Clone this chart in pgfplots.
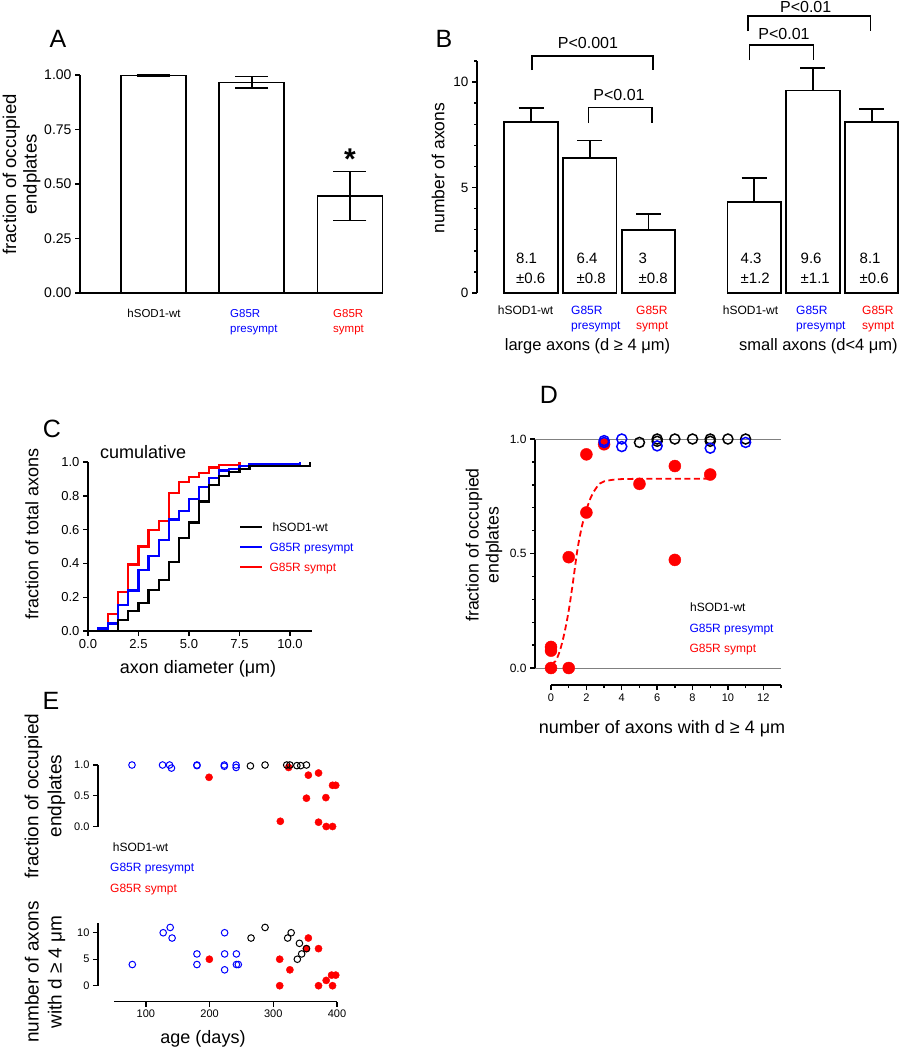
\documentclass[border=0pt]{standalone}
\usepackage{fontspec}
\setmainfont{Liberation Sans}
\usepackage{pgfplots}
\pgfplotsset{compat=1.18}
\definecolor{cb}{RGB}{0,0,255}
\definecolor{cr}{RGB}{255,0,0}
\newcommand\F[2]{\fontsize{#1}{#2}\selectfont}
\pgfplotsset{
  base/.style={scale only axis, anchor=south west, clip=false,
    /pgf/number format/assume math mode=true,
    axis line style={line width=1.6pt},
    tick style={line width=1.4pt, black},
    major tick length=5pt, minor tick length=3pt},
  dec1/.style={/pgf/number format/fixed, /pgf/number format/fixed zerofill, /pgf/number format/precision=1},
  dec2/.style={/pgf/number format/fixed, /pgf/number format/fixed zerofill, /pgf/number format/precision=2},
}
\begin{document}
\begin{tikzpicture}
\path[use as bounding box] (0pt,0pt) rectangle (899pt,-1050pt);

% ---------------- Panel A ----------------
\begin{axis}[base, at={(80pt,-293pt)}, width=303pt, height=218pt,
  xmin=0.252, xmax=3.336, ymin=0, ymax=1,
  axis x line*=bottom, axis y line*=left, tick align=outside,
  axis line style={line width=1.8pt},
  xtick=\empty, ytick={0,0.25,0.5,0.75,1},
  yticklabel style={font=\F{14}{16}, dec2}]
\addplot[ybar, bar width=0.66, bar shift=0pt, fill=white, draw=black, line width=1.8pt,
  error bars/.cd, y dir=both, y explicit,
  error bar style={line width=1.8pt},
  error mark options={rotate=90, line width=1.8pt, mark size=16.5pt}]
  table[row sep=\\, x=x, y=y, y error=e] {x y e\\ 1 0.998 0.001\\ 2 0.966 0.027\\ 3 0.445 0.112\\};
\end{axis}

% ---------------- Panel B ----------------
\begin{axis}[base, at={(477pt,-293pt)}, width=422pt, height=232pt,
  xmin=0.08, xmax=7.265, ymin=0, ymax=11,
  axis y line*=left, axis x line=none, tick align=outside,
  axis line style={line width=1.6pt},
  xtick=\empty, ytick={0,5,10}, minor ytick={1,2,3,4,6,7,8,9,11},
  yticklabel style={font=\F{13.5}{15}}]
\addplot[ybar, bar width=0.908, bar shift=0pt, fill=white, draw=black, line width=1.8pt,
  error bars/.cd, y dir=plus, y explicit,
  error bar style={line width=1.8pt},
  error mark options={rotate=90, line width=1.8pt, mark size=12.5pt}]
  table[row sep=\\, x=x, y=y, y error=e] {x y e\\ 1 8.1 0.67\\ 2 6.4 0.83\\ 3 3 0.76\\ 4.8 4.3 1.16\\ 5.8 9.6 1.06\\ 6.8 8.1 0.62\\};
\end{axis}

% ---------------- Panel C ----------------
\begin{axis}[base, at={(88pt,-631pt)}, width=224pt, height=169pt,
  xmin=0, xmax=11.09, ymin=0, ymax=1,
  axis x line*=bottom, axis y line*=left, tick align=outside,
  axis line style={line width=1.5pt},
  xtick={0,2.5,5,7.5,10}, ytick={0,0.2,0.4,0.6,0.8,1},
  xticklabel style={font=\F{13}{14}, dec1},
  yticklabel style={font=\F{13}{14}, dec1}]
\addplot[const plot, color=cr, line width=2.2pt] coordinates {
 (0,0) (1.0,0.099) (1.5,0.23) (2.0,0.394) (2.5,0.5) (3.0,0.6) (3.5,0.653) (4.0,0.816)
 (4.5,0.88) (5.0,0.91) (5.5,0.935) (6.0,0.968) (6.5,0.984) (7.5,1.0)};
\addplot[const plot, color=cb, line width=2.2pt] coordinates {
 (0,0) (0.5,0.015) (1.0,0.045) (1.5,0.155) (2.0,0.24) (2.5,0.36) (3.0,0.445) (3.5,0.54)
 (4.0,0.66) (4.5,0.71) (5.0,0.78) (5.5,0.85) (6.0,0.905) (6.5,0.95) (7.0,0.96) (7.5,0.975)
 (8.0,0.985) (9.5,0.99) (10.5,1.0)};
\addplot[const plot, color=black, line width=2.2pt] coordinates {
 (0,0) (1.5,0.065) (2.0,0.12) (2.5,0.164) (3.0,0.245) (3.5,0.30) (4.0,0.41) (4.5,0.549)
 (5.0,0.642) (5.5,0.766) (6.0,0.865) (6.5,0.919) (7.0,0.94) (7.5,0.96) (8.0,0.975) (11.0,1.0)};
\end{axis}

% ---------------- Panel D ----------------
\begin{axis}[base, at={(535pt,-668pt)}, width=246pt, height=229pt,
  xmin=-0.905, xmax=13, ymin=0, ymax=1,
  axis y line*=left, axis x line=none, tick align=outside,
  axis line style={line width=1.3pt},
  xtick=\empty, ytick={0,0.5,1}, minor ytick={0.1,0.2,0.3,0.4,0.6,0.7,0.8,0.9},
  yticklabel style={font=\F{12}{13}, dec1}]
\draw[gray, line width=1pt] (axis cs:-0.905,0) -- (axis cs:13,0);
\draw[gray, line width=1pt] (axis cs:-0.905,1) -- (axis cs:13,1);
\addplot[color=cr, line width=1.8pt, dash pattern=on 6pt off 3.5pt, smooth, tension=0.5] coordinates {
 (0,0.015) (0.25,0.03) (0.5,0.075) (0.75,0.15) (1.0,0.25) (1.25,0.38) (1.5,0.52) (1.75,0.62)
 (2.0,0.69) (2.25,0.745) (2.5,0.78) (2.75,0.805) (3.0,0.815) (3.5,0.822) (4,0.825) (5,0.826) (9,0.827)};
\addplot[only marks, mark=*, mark size=6pt, color=cr, mark options={draw=none, fill=cr}] coordinates {
 (0,0) (0,0.076) (0,0.092) (1,0) (1,0.484) (2,0.933) (2,0.679) (3,0.977) (5,0.804) (7,0.882) (7,0.472) (9,0.845)};
\addplot[only marks, mark=o, mark size=5pt, color=black, mark options={line width=1.5pt}] coordinates {
 (5,0.985) (6,1.0) (6,0.99) (7,1.0) (8,1.0) (9,1.0) (9,0.99) (10,1.0) (11,1.0)};
\addplot[only marks, mark=o, mark size=5pt, color=cb, mark options={line width=1.5pt}] coordinates {
 (3,0.993) (3,0.985) (4,1.0) (4,0.967) (6,0.97) (9,0.96) (11,0.985)};
\end{axis}
\begin{axis}[base, at={(551pt,-685pt)}, width=230pt, height=1pt,
  xmin=0, xmax=13, ymin=0, ymax=1,
  axis x line*=bottom, axis y line=none, tick align=outside,
  axis line style={line width=1.3pt},
  ytick=\empty, xtick={0,2,4,6,8,10,12}, minor xtick={1,3,5,7,9,11,13},
  xticklabel style={font=\F{11}{12}}]
\end{axis}

% ---------------- Panel E ----------------
\begin{axis}[base, at={(98pt,-826.5pt)}, width=239pt, height=61.5pt,
  xmin=24.6, xmax=400, ymin=0, ymax=1,
  axis y line*=left, axis x line=none, tick align=outside,
  axis line style={line width=1.2pt},
  xtick=\empty, ytick={0,0.5,1},
  yticklabel style={font=\F{11}{12}, dec1}]
\addplot[only marks, mark=*, mark size=3.6pt, color=cr, mark options={draw=none, fill=cr}] coordinates {
 (199,0.80) (324,0.96) (355,0.835) (371,0.87) (393,0.67) (398,0.67) (352,0.46) (382.5,0.47)
 (311,0.085) (371,0.07) (383,0.0) (393,0.0)};
\addplot[only marks, mark=o, mark size=3.3pt, color=cb, mark options={line width=1pt}] coordinates {
 (78,1.0) (126,1.0) (137,1.0) (140,0.95) (180,1.0) (180,0.99) (223,1.0) (223,0.98) (241.5,1.0) (241.5,0.96)};
\addplot[only marks, mark=o, mark size=3.3pt, color=black, mark options={line width=1pt}] coordinates {
 (264,0.985) (287,1.0) (321,1.0) (326,1.0) (337,0.99) (343,0.99) (352,1.0)};
\end{axis}
\begin{axis}[base, at={(98pt,-985.7pt)}, width=239pt, height=62.5pt,
  xmin=24.6, xmax=400, ymin=0, ymax=11.8,
  axis y line*=left, axis x line=none, tick align=outside,
  axis line style={line width=1.2pt},
  xtick=\empty, ytick={0,5,10},
  yticklabel style={font=\F{11}{12}}]
\addplot[only marks, mark=*, mark size=3.6pt, color=cr, mark options={draw=none, fill=cr}] coordinates {
 (199.5,5) (310,5) (310,0) (326,3) (352,7) (355,9) (371,7) (371,0) (383,1) (393,0) (391.5,2) (398,2)};
\addplot[only marks, mark=o, mark size=3.3pt, color=cb, mark options={line width=1pt}] coordinates {
 (78.5,4) (127,10) (138,11) (141,9) (180,6) (180,4) (223.5,10) (223.5,6) (223.5,3) (242,6) (242,4) (245,4)};
\addplot[only marks, mark=o, mark size=3.3pt, color=black, mark options={line width=1pt}] coordinates {
 (265,9) (287,11) (322.5,9) (328,10) (341,8) (337.7,5) (344.5,6) (352,7)};
\end{axis}
\begin{axis}[base, at={(114pt,-1001.7pt)}, width=223pt, height=1pt,
  xmin=50, xmax=400, ymin=0, ymax=1,
  axis x line*=bottom, axis y line=none, tick align=outside,
  axis line style={line width=1.2pt},
  ytick=\empty, xtick={100,200,300,400},
  xticklabel style={font=\F{11}{12}}]
\end{axis}

% ---------------- Text ----------------
\tikzset{t/.style={inner sep=0pt}}
% panel letters
\node[t, font=\F{25}{25}] at (58pt,-39pt) {A};
\node[t, font=\F{25}{25}] at (444pt,-39pt) {B};
\node[t, font=\F{25}{25}] at (52pt,-429pt) {C};
\node[t, font=\F{25}{25}] at (549pt,-395pt) {D};
\node[t, font=\F{25}{25}] at (51pt,-701pt) {E};

% A
\node[t, rotate=90, align=center, font=\F{18.5}{20.5}] at (21.5pt,-174.5pt) {fraction of occupied\\endplates};
\node[t, anchor=base, font=\F{11.5}{12}] at (154pt,-317pt) {hSOD1-wt};
\node[t, anchor=base west, font=\F{11.5}{12}, text=cb] at (230pt,-317pt) {G85R};
\node[t, anchor=base west, font=\F{11.5}{12}, text=cb] at (230pt,-332pt) {presympt};
\node[t, anchor=base west, font=\F{11.5}{12}, text=cr] at (333pt,-317pt) {G85R};
\node[t, anchor=base west, font=\F{11.5}{12}, text=cr] at (333pt,-332pt) {sympt};
\node[t, anchor=base, font=\bfseries\F{30}{30}] at (350pt,-169.5pt) {*};

% B
\node[t, rotate=90, font=\F{17.5}{19}] at (438pt,-168pt) {number of axons};
\foreach \xx/\a/\b in {516/8.1/0.6, 576.5/6.4/0.8, 638.5/3/0.8, 740.5/4.3/1.2, 800.5/9.6/1.1, 859.5/8.1/0.6}{
  \node[t, anchor=base west, font=\F{15}{16}] at (\xx pt,-263.4pt) {\a};
  \node[t, anchor=base west, font=\F{15}{16}] at (\xx pt,-283.4pt) {±\b};
}
\node[t, anchor=base, font=\F{12}{13}] at (525.5pt,-314.3pt) {hSOD1-wt};
\node[t, anchor=base west, font=\F{12}{13}, text=cb] at (571pt,-314.3pt) {G85R};
\node[t, anchor=base west, font=\F{12}{13}, text=cb] at (571pt,-329.3pt) {presympt};
\node[t, anchor=base west, font=\F{12}{13}, text=cr] at (636pt,-314.3pt) {G85R};
\node[t, anchor=base west, font=\F{12}{13}, text=cr] at (636pt,-329.3pt) {sympt};
\node[t, anchor=base, font=\F{12}{13}] at (750.5pt,-314.3pt) {hSOD1-wt};
\node[t, anchor=base west, font=\F{12}{13}, text=cb] at (796pt,-314.3pt) {G85R};
\node[t, anchor=base west, font=\F{12}{13}, text=cb] at (796pt,-329.3pt) {presympt};
\node[t, anchor=base west, font=\F{12}{13}, text=cr] at (862pt,-314.3pt) {G85R};
\node[t, anchor=base west, font=\F{12}{13}, text=cr] at (862pt,-329.3pt) {sympt};
\node[t, anchor=base, font=\F{16.5}{18}] at (587.5pt,-350pt) {large axons (d ≥ 4 μm)};
\node[t, anchor=base, font=\F{16.5}{18}] at (818.5pt,-350pt) {small axons (d<4 μm)};
\draw[line width=1.6pt] (532pt,-70pt) -- (532pt,-56pt) -- (653pt,-56pt) -- (653pt,-70pt);
\draw[line width=1.6pt] (588.5pt,-123pt) -- (588.5pt,-107.5pt) -- (652pt,-107.5pt) -- (652pt,-123pt);
\draw[line width=1.6pt] (749.5pt,-60pt) -- (749.5pt,-45pt) -- (813.5pt,-45pt) -- (813.5pt,-60pt);
\draw[line width=1.6pt] (748pt,-31pt) -- (748pt,-16pt) -- (870.5pt,-16pt) -- (870.5pt,-31pt);
\node[t, anchor=base, font=\F{16}{17}] at (588pt,-48.5pt) {P<0.001};
\node[t, anchor=base, font=\F{16}{17}] at (619pt,-100.8pt) {P<0.01};
\node[t, anchor=base, font=\F{16}{17}] at (784pt,-39.8pt) {P<0.01};
\node[t, anchor=base, font=\F{16}{17}] at (805.7pt,-12.5pt) {P<0.01};

% C
\node[t, anchor=base west, font=\F{18}{19}] at (100pt,-458pt) {cumulative};
\draw[black, line width=2.2pt] (240pt,-527pt) -- (262pt,-527pt);
\draw[cb, line width=2.2pt] (240pt,-547pt) -- (262pt,-547pt);
\draw[cr, line width=2.2pt] (240pt,-566.7pt) -- (262pt,-566.7pt);
\node[t, anchor=base west, font=\F{12}{13}] at (272.3pt,-531pt) {hSOD1-wt};
\node[t, anchor=base west, font=\F{12}{13}, text=cb] at (269.3pt,-551pt) {G85R presympt};
\node[t, anchor=base west, font=\F{12}{13}, text=cr] at (269.3pt,-571pt) {G85R sympt};
\node[t, rotate=90, font=\F{18}{19}] at (32pt,-534pt) {fraction of total axons};
\node[t, anchor=base, font=\F{18}{19}] at (198pt,-673pt) {axon diameter (μm)};

% D
\node[t, rotate=90, align=center, font=\F{17.7}{20}] at (484pt,-545pt) {fraction of occupied\\endplates};
\node[t, anchor=base, font=\F{18}{19}] at (662pt,-733.5pt) {number of axons with d ≥ 4 μm};
\node[t, anchor=base west, font=\F{12}{13}] at (690pt,-611.3pt) {hSOD1-wt};
\node[t, anchor=base west, font=\F{12}{13}, text=cb] at (689.3pt,-632.3pt) {G85R presympt};
\node[t, anchor=base west, font=\F{12}{13}, text=cr] at (689.3pt,-652.3pt) {G85R sympt};

% E
\node[t, rotate=90, align=center, font=\F{19}{23}] at (45pt,-796pt) {fraction of occupied\\endplates};
\node[t, rotate=90, align=center, font=\F{19}{23}] at (45pt,-972pt) {number of axons\\with d ≥ 4 μm};
\node[t, anchor=base, font=\F{18}{19}] at (203pt,-1043pt) {age (days)};
\node[t, anchor=base west, font=\F{12}{13}] at (112.7pt,-851pt) {hSOD1-wt};
\node[t, anchor=base west, font=\F{12}{13}, text=cb] at (110pt,-871.5pt) {G85R presympt};
\node[t, anchor=base west, font=\F{12}{13}, text=cr] at (110pt,-892pt) {G85R sympt};
\end{tikzpicture}
\end{document}
